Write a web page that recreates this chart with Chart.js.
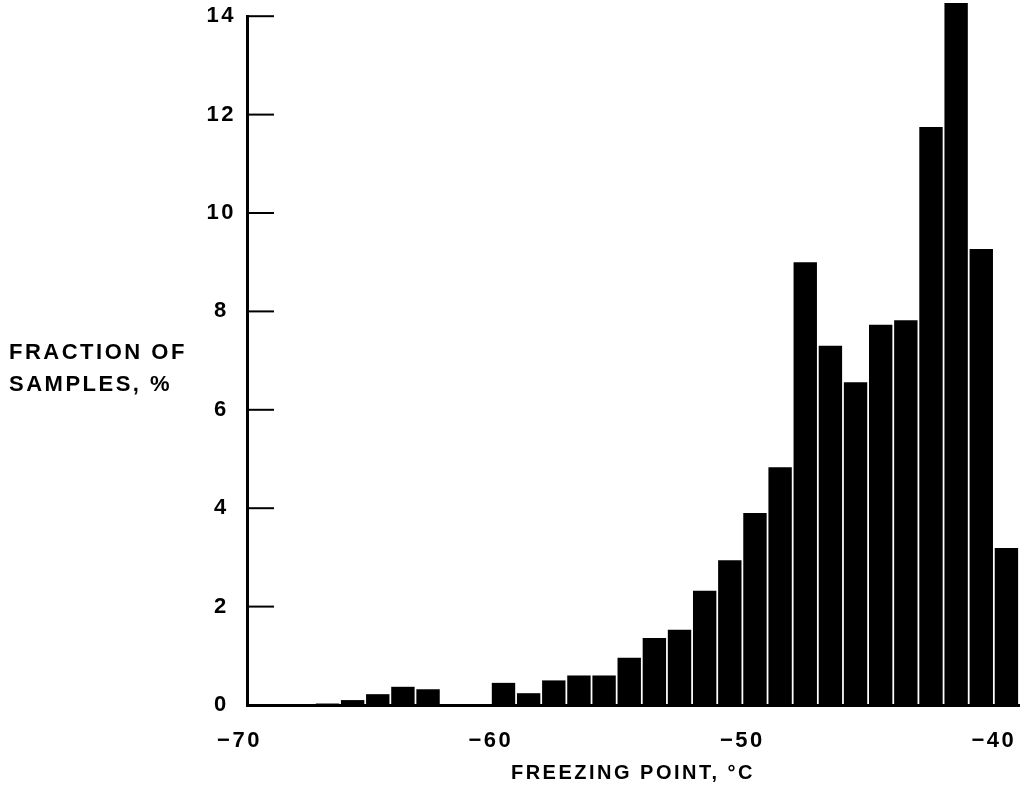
<!DOCTYPE html>
<html>
<head>
<meta charset="utf-8">
<style>
  body { margin: 0; background: #fff; }
  #wrap { width: 1032px; height: 803px; }
</style>
<script src="https://cdn.jsdelivr.net/npm/chart.js@4.4.1/dist/chart.umd.min.js"></script>
</head>
<body>
<div id="wrap"><canvas id="hist" width="1032" height="803"></canvas></div>
<script>
// lower edge of each 1 degree bin, deg C
const binStart = [-70, -69, -68, -67, -66, -65, -64, -63, -62, -61,
                  -60, -59, -58, -57, -56, -55, -54, -53, -52, -51,
                  -50, -49, -48, -47, -46, -45, -44, -43, -42, -41, -40];
// fraction of samples in each bin, %
const fraction = [0, 0, 0, 0.03, 0.1, 0.22, 0.37, 0.32, 0, 0,
                  0.45, 0.24, 0.5, 0.6, 0.6, 0.96, 1.36, 1.53, 2.32, 2.94,
                  3.9, 4.83, 9.0, 7.3, 6.56, 7.73, 7.82, 11.75, 14.27, 9.27, 3.19];
const xTicks = [-70, -60, -50, -40];
const yTicks = [0, 2, 4, 6, 8, 10, 12, 14];
const yTitle = ["FRACTION OF", "SAMPLES, %"];
const xTitle = "FREEZING POINT, °C";

const FONT = "'Liberation Sans', Arial, Helvetica, sans-serif";

const spacing = {
    id: 'spacing',
    beforeUpdate(chart) { chart.ctx.letterSpacing = '2.5px'; },
    beforeDraw(chart) { chart.ctx.letterSpacing = '2.5px'; }
};

// short tick marks pointing into the plot, plus the horizontal y title
const extras = {
    id: 'extras',
    afterDraw(chart) {
        const {ctx, chartArea, scales: {y}} = chart;
        ctx.save();
        ctx.strokeStyle = '#000';
        ctx.lineWidth = 2;
        y.ticks.forEach(t => {
            const py = y.getPixelForValue(t.value);
            ctx.beginPath();
            ctx.moveTo(chartArea.left, py);
            ctx.lineTo(chartArea.left + 27, py);
            ctx.stroke();
        });
        ctx.fillStyle = '#000';
        ctx.font = 'bold 22px ' + FONT;
        ctx.textAlign = 'left';
        ctx.textBaseline = 'alphabetic';
        const mid = (chartArea.top + chartArea.bottom) / 2;
        ctx.fillText(yTitle[0], 9, mid - 2);
        ctx.fillText(yTitle[1], 9, mid + 30);
        ctx.restore();
    }
};

new Chart(document.getElementById("hist"), {
    type: 'bar',
    data: {
        datasets: [{
            label: "Fraction of samples",
            data: binStart.map((b, i) => ({x: b + 0.5, y: fraction[i]})),
            backgroundColor: '#000',
            borderWidth: 0,
            barPercentage: 0.93,
            categoryPercentage: 1,
            clip: false
        }]
    },
    options: {
        responsive: false,
        animation: false,
        layout: { padding: { top: 10, right: 13, bottom: 0, left: 0 } },
        plugins: {
            legend: { display: false },
            tooltip: { enabled: false }
        },
        scales: {
            x: {
                type: 'linear',
                min: -69.7,
                max: -39,
                offset: false,
                grid: { display: false },
                border: { display: true, color: '#000', width: 3 },
                afterBuildTicks: s => { s.ticks = xTicks.map(v => ({value: v})); },
                afterFit: s => { s.height = 98; },
                ticks: {
                    autoSkip: false,
                    maxRotation: 0,
                    padding: 15,
                    color: '#000',
                    font: { family: FONT, size: 22, weight: 'bold' },
                    callback: v => (v < 0 ? '\u2212' + Math.abs(v) : String(v))
                },
                title: {
                    display: true,
                    text: xTitle,
                    color: '#000',
                    font: { family: FONT, size: 20, weight: 'bold' },
                    padding: { top: 0, bottom: 18 }
                }
            },
            y: {
                min: 0,
                max: 14,
                grid: { display: false },
                border: { display: true, color: '#000', width: 3 },
                afterBuildTicks: s => { s.ticks = yTicks.map(v => ({value: v})); },
                afterFit: s => { s.width = 247; },
                ticks: {
                    crossAlign: 'center',
                    padding: 3,
                    color: '#000',
                    font: { family: FONT, size: 22, weight: 'bold' }
                },
                title: { display: false }
            }
        }
    },
    plugins: [spacing, extras]
});
</script>
</body>
</html>
